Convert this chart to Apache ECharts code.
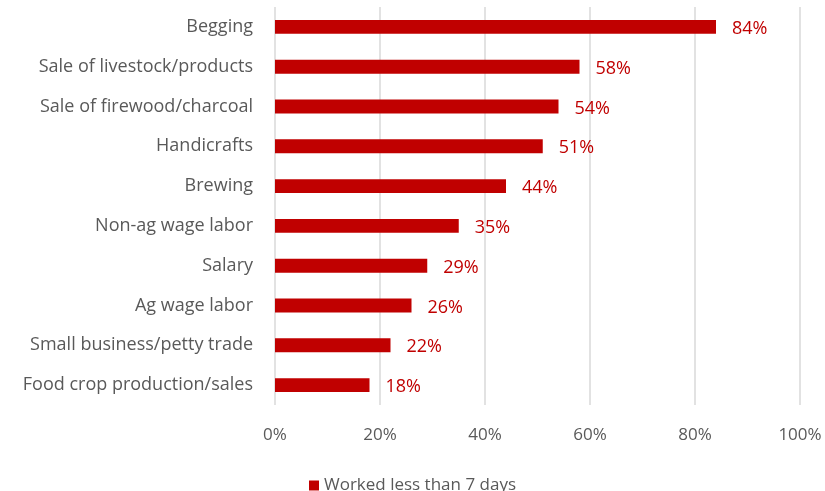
<!DOCTYPE html>
<html>
<head>
<meta charset="utf-8">
<script src="https://cdn.jsdelivr.net/npm/echarts@6/dist/echarts.min.js"></script>
<style>
  html, body { margin: 0; padding: 0; background: #fff; }
  #chart { width: 825px; height: 491px; }
</style>
</head>
<body>
<div id="chart"></div>
<script>
// Income activities, listed bottom to top
const categories = [
  'Food crop production/sales',
  'Small business/petty trade',
  'Ag wage labor',
  'Salary',
  'Non-ag wage labor',
  'Brewing',
  'Handicrafts',
  'Sale of firewood/charcoal',
  'Sale of livestock/products',
  'Begging'
];
const workedLessThan7Days = [18, 22, 26, 29, 35, 44, 51, 54, 58, 84];
const xTicks = [0, 20, 40, 60, 80, 100];
const seriesName = 'Worked less than 7 days';

const FONT = '"Open Sans", Lato, sans-serif';
const RED = '#C00000';
const GREY = '#595959';

const chart = echarts.init(document.getElementById('chart'), null, { renderer: 'canvas' });
chart.setOption({
  animation: false,
  textStyle: { fontFamily: FONT },
  grid: { left: 275, right: 25, top: 7, bottom: 86, containLabel: false },
  legend: {
    data: [seriesName],
    top: 472,
    left: 'center',
    itemWidth: 10,
    itemHeight: 10,
    itemGap: 5,
    icon: 'rect',
    textStyle: { color: GREY, fontSize: 17, fontFamily: FONT }
  },
  xAxis: {
    type: 'value',
    min: xTicks[0],
    max: xTicks[xTicks.length - 1],
    interval: 20,
    axisLine: { show: false },
    axisTick: { show: false },
    splitLine: { show: true, lineStyle: { color: '#d9d9d9', width: 1.5 } },
    axisLabel: {
      color: GREY, fontSize: 17, fontFamily: FONT, margin: 22,
      formatter: v => v + '%'
    }
  },
  yAxis: {
    type: 'category',
    data: categories,
    axisLine: { show: false },
    axisTick: { show: false },
    axisLabel: { color: GREY, fontSize: 18, fontFamily: FONT, margin: 22 }
  },
  series: [{
    name: seriesName,
    type: 'bar',
    data: workedLessThan7Days,
    barWidth: '35%',
    itemStyle: { color: RED },
    label: {
      show: true,
      position: 'right',
      distance: 16,
      offset: [0, 2],
      color: RED,
      fontSize: 18,
      fontFamily: FONT,
      formatter: p => p.value + '%'
    }
  }]
});
</script>
</body>
</html>
